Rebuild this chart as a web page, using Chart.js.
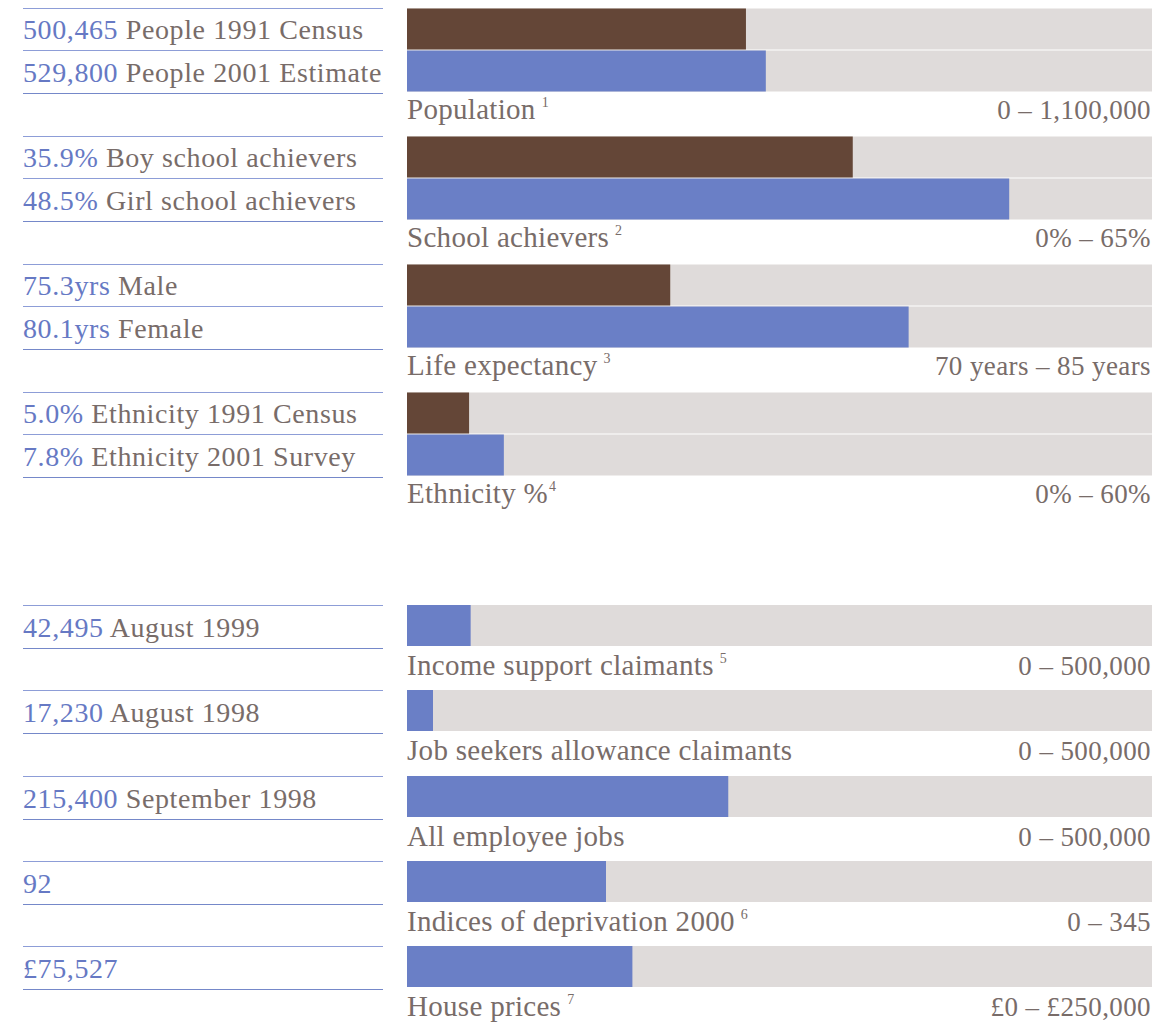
<!DOCTYPE html>
<html>
<head>
<meta charset="utf-8">
<script src="https://cdn.jsdelivr.net/npm/chart.js@4.4.1/dist/chart.umd.min.js"></script>
<style>
  html, body { margin: 0; padding: 0; background: #ffffff; }
  #page { position: relative; width: 1162px; height: 1023px; overflow: hidden; font-family: "Liberation Serif", serif; color: #786c69; }
  .rule { position: absolute; left: 23px; width: 360px; height: 0; border-top: 1.5px solid #8d9dd7; }
  .rule.last { border-top-color: #7588c9; }
  .label { position: absolute; left: 23px; font-size: 28px; line-height: 1; letter-spacing: 0.6px; white-space: nowrap; }
  .label .num { color: #6679c4; }
  .caption { position: absolute; left: 407px; font-size: 29px; line-height: 1; letter-spacing: 0.3px; white-space: nowrap; }
  .caption sup { font-size: 14px; vertical-align: 0; position: relative; top: -12px; margin-left: 6px; }
  .caption sup.tight { margin-left: 1px; }
  .range { position: absolute; right: 11px; font-size: 27px; line-height: 1; letter-spacing: 0.4px; white-space: nowrap; }
  canvas { position: absolute; left: 407px; }
</style>
</head>
<body>
<div id="page"></div>
<script>
// Paired measures (first bar brown, second bar blue)
const groupTitles = ["Population", "School achievers", "Life expectancy", "Ethnicity %"];
const groupNotes = ["1", "2", "3", "4"];
const groupRanges = ["0 – 1,100,000", "0% – 65%", "70 years – 85 years", "0% – 60%"];
const groupMin = [0, 0, 70, 0];
const groupMax = [1100000, 60, 85, 60];
const firstValues = [500465, 35.9, 75.3, 5.0];
const secondValues = [529800, 48.5, 80.1, 7.8];
const firstLabels = ["500,465", "35.9%", "75.3yrs", "5.0%"];
const firstNames = ["People 1991 Census", "Boy school achievers", "Male", "Ethnicity 1991 Census"];
const secondLabels = ["529,800", "48.5%", "80.1yrs", "7.8%"];
const secondNames = ["People 2001 Estimate", "Girl school achievers", "Female", "Ethnicity 2001 Survey"];

// Single measures
const statTitles = ["Income support claimants", "Job seekers allowance claimants", "All employee jobs", "Indices of deprivation 2000", "House prices"];
const statNotes = ["5", "", "", "6", "7"];
const statRanges = ["0 – 500,000", "0 – 500,000", "0 – 500,000", "0 – 345", "£0 – £250,000"];
const statMax = [500000, 500000, 500000, 345, 250000];
const statValues = [42495, 17230, 215400, 92, 75527];
const statLabels = ["42,495", "17,230", "215,400", "92", "£75,527"];
const statNames = ["August 1999", "August 1998", "September 1998", "", ""];

const BROWN = "#644637";
const BLUE = "#6a7fc6";
const TRACK = "#dfdbda";
const TRACK_W = 745;

const page = document.getElementById("page");

function addEl(tag, cls, top, html) {
    const el = document.createElement(tag);
    el.className = cls;
    el.style.top = top + "px";
    if (html !== undefined) el.innerHTML = html;
    page.appendChild(el);
    return el;
}

function captionHtml(title, note) {
    if (!note) return title;
    // no gap after a trailing % sign
    const cls = title.endsWith("%") ? ' class="tight"' : "";
    return `${title}<sup${cls}>${note}</sup>`;
}

// Horizontal bars over a grey track that spans the full scale
function drawBars(top, height, values, colors, min, max) {
    const canvas = document.createElement("canvas");
    canvas.width = TRACK_W;
    canvas.height = height;
    canvas.style.top = top + "px";
    page.appendChild(canvas);

    const cats = values.map((_, i) => "r" + i);
    const barPct = values.length > 1 ? 41 / 42 : 1;

    new Chart(canvas, {
        type: "bar",
        data: {
            labels: cats,
            datasets: [
                {
                    data: values,
                    backgroundColor: colors,
                    grouped: false,
                    order: 1,
                    barPercentage: barPct,
                    categoryPercentage: 1,
                },
                {
                    data: values.map(() => max),
                    backgroundColor: TRACK,
                    grouped: false,
                    order: 2,
                    barPercentage: barPct,
                    categoryPercentage: 1,
                },
            ],
        },
        options: {
            indexAxis: "y",
            responsive: false,
            animation: false,
            layout: { padding: 0 },
            scales: {
                x: { display: false, min: min, max: max },
                y: { display: false },
            },
            plugins: { legend: { display: false }, tooltip: { enabled: false } },
        },
    });
}

// Top section: four paired groups
groupTitles.forEach((title, i) => {
    const t = 8 + i * 128;
    addEl("div", "rule", t);
    addEl("div", "rule", t + 42);
    addEl("div", "rule last", t + 85);
    addEl("div", "label", t + 8, `<span class="num">${firstLabels[i]}</span> ${firstNames[i]}`);
    addEl("div", "label", t + 51, `<span class="num">${secondLabels[i]}</span> ${secondNames[i]}`);
    drawBars(t, 84, [firstValues[i], secondValues[i]], [BROWN, BLUE], groupMin[i], groupMax[i]);
    addEl("div", "caption", t + 87, captionHtml(title, groupNotes[i]));
    addEl("div", "range", t + 89, groupRanges[i]);
});

// Bottom section: five single rows
statTitles.forEach((title, i) => {
    const t = Math.round(605 + i * 85.25);
    addEl("div", "rule", t);
    addEl("div", "rule last", t + 43);
    const name = statNames[i] ? " " + statNames[i] : "";
    addEl("div", "label", t + 9, `<span class="num">${statLabels[i]}</span>${name}`);
    drawBars(t, 41, [statValues[i]], [BLUE], 0, statMax[i]);
    addEl("div", "caption", t + 46, captionHtml(title, statNotes[i]));
    addEl("div", "range", t + 48, statRanges[i]);
});
</script>
</body>
</html>
